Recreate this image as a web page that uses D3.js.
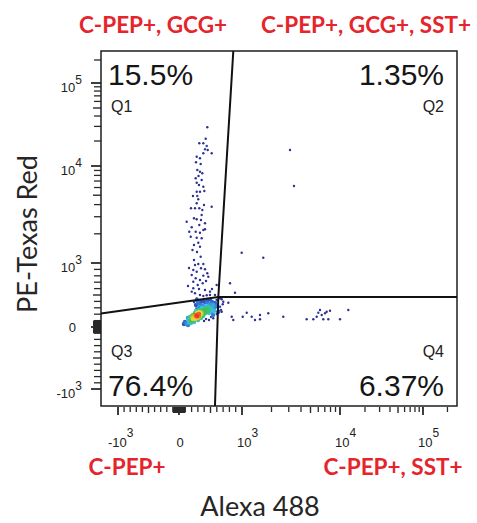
<!DOCTYPE html>
<html>
<head>
<meta charset="utf-8">
<script src="https://cdn.jsdelivr.net/npm/d3@7"></script>
<style>
  body { margin: 0; background: #fff; }
  text { font-family: "Liberation Sans", Arial, sans-serif; }
  .cap { font-family: Lato, "Open Sans", sans-serif; }
</style>
</head>
<body>
<script>
// events in the C-PEP+ GCG+ stream (Alexa 488, PE-Texas Red)
var upperX = [449,424,322,386,440,413,456,281,386,519,333,270,344,290,333,370,265,360,281,317,386,333,402,281,290,306,281,254,190,322,519,370,360,238,281,349,122,413,322,202,386,163,265,333,413,186,281,360,238,333,306,344,238,306,254,386,349,413,227,281,449,202,386,265,333,465,227,376,297,202,254,333,386,440,492,571,227,413,492,281,598,310,222,397,214,286,159,429,143,317,524];
var upperY = [29250,21330,18770,18770,17420,15890,15590,12940,14230,14230,12380,11080,10570,9094,8735,8408,7465,7173,6728,6368,6117,5433,5522,5433,4906,4536,4126,3664,3664,3664,3805,3519,3126,2889,2822,2775,2665,2566,2465,2334,2188,2102,2102,2053,2225,1867,1823,1797,1533,1472,1619,1161,1074,984,969,984,917,902,891,864,839,813,802,761,734,786,708,683,656,552,527,500,484,495,500,500,605,578,552,448,656,7889,4906,3963,1361,1298,922,719,641,594,594];

// triple positive events
var q2X = [810,889,995,1649,3090,3393];
var q2Y = [683,536,1277,1134,15590,6220];

// C-PEP+ SST+ stream and events near the gate corner
var lowerX = [783,678,694,667,678,837,862,1017,1117,1256,1357,1526,1526,1854,2639,4571,5341,5784,6004,6250,6507,6753,7030,7311,7597,7907,10000,12589,598,651,703,651,624,571,519,465,544,598];
var lowerY = [380,433,355,266,239,161,109,161,223,161,109,188,120,214,161,120,120,161,223,266,188,120,214,239,120,255,120,266,422,448,395,317,239,317,266,250,136,203];

// dense C-PEP+ population
var coreX = [270,286,254,302,270,238,317,286,254,302,222,333,270,286,
  190,206,222,175,349,365,381,317,333,238,254,302,365,397,206,159,333,413,222,286,317,349,
  111,127,95,143,79,159,175,429,444,460,397,381,190,238,349,476,492,413,302,206,254,317,365,429,508,524,444,381,333,286,270,476,524,143,
  270,302,333,381,413,444,492,524,540,460,349,556,508,286,238,571,587,556,540,508,476,429,397];
var coreY = [172,188,156,203,141,141,203,156,172,172,125,219,188,172,
  109,141,156,94,234,250,250,172,188,109,125,141,219,266,94,78,156,266,188,219,234,203,
  63,47,78,31,47,125,156,297,281,266,203,172,63,78,141,313,250,219,109,172,219,266,297,234,281,313,328,328,313,281,250,219,234,141,
  344,375,391,406,391,375,359,391,344,422,344,297,422,422,391,375,328,250,188,156,109,125,94];

// axis ticks and labels
var tickVals = [-1000, 0, 1000, 10000, 100000];
var tickBase = ['-10', '0', '10', '10', '10'];
var tickExp = ['3', '', '3', '4', '5'];
var mediumTicks = [-500, 500, 5000, 50000];
var minorTicks = [-900, -800, -700, -600, -400, -300, -200, -100, 100, 200, 300, 400, 600, 700, 800, 900,
  2000, 3000, 4000, 6000, 7000, 8000, 9000, 20000, 30000, 40000, 60000, 70000, 80000, 90000, 200000];
var zeroTicks = [-90, -80, -70, -60, -50, -40, -30, -20, -10, 0, 10, 20, 30, 40, 50, 60, 70, 80, 90];

var quadPct = ['15.5%', '1.35%', '76.4%', '6.37%'];
var quadName = ['Q1', 'Q2', 'Q3', 'Q4'];
var popNames = ['C-PEP+, GCG+', 'C-PEP+, GCG+, SST+', 'C-PEP+', 'C-PEP+, SST+'];

// gate lines, in data units
var vMin = -1900, vMax = 262144;
var gateV = [[862, vMax], [624, 469], [571, vMin]];
var gateH = [[vMin, 211], [624, 469], [vMax, 469]];

const w = 477, h = 523;
const red = '#e5242b';

// biexponential-like display transform
function biex(v) {
  var a = Math.abs(v);
  return a <= 1000 ? v / 1000 : Math.sign(v) * (1 + Math.log10(a / 1000));
}
var stops = [biex(vMin), -1, 0, 1, 2, 3, biex(vMax)];
var xs = d3.scaleLinear().domain(stops).range([101, 118, 179, 242, 340, 423, 457]);
var ys = d3.scaleLinear().domain(stops).range([406, 389, 327, 263, 166, 83, 51]);
var x = function(v) { return xs(biex(v)); };
var y = function(v) { return ys(biex(v)); };

var svg = d3.select('body').append('svg')
  .attr('width', w).attr('height', h);

// ticks: [values, length, width]
var tickKinds = [[tickVals, 8, 1.8], [mediumTicks, 6, 1.4], [minorTicks, 5, 1.3], [zeroTicks, 6, 1.5]];
var allTicks = [];
tickKinds.forEach(function(t) {
  t[0].forEach(function(v) { allTicks.push({ v: v, len: t[1], sw: t[2] }); });
});
var axisY0 = 407, axisX0 = 101;

svg.append('g').selectAll('line')
  .data(allTicks)
  .enter()
  .append('line')
  .attr('x1', function(d) { return x(d.v); })
  .attr('x2', function(d) { return x(d.v); })
  .attr('y1', axisY0)
  .attr('y2', function(d) { return axisY0 + d.len; })
  .attr('stroke', '#2a2a2a')
  .attr('stroke-width', function(d) { return d.sw; });

svg.append('g').selectAll('line')
  .data(allTicks)
  .enter()
  .append('line')
  .attr('y1', function(d) { return y(d.v); })
  .attr('y2', function(d) { return y(d.v); })
  .attr('x1', axisX0)
  .attr('x2', function(d) { return axisX0 - d.len - 2; })
  .attr('stroke', '#2a2a2a')
  .attr('stroke-width', function(d) { return d.sw; });

// tick labels with superscripts
tickVals.forEach(function(v, i) {
  var tx = svg.append('text')
    .attr('font-size', 13).attr('fill', '#222')
    .attr('y', 447);
  if (tickExp[i]) {
    tx.attr('x', x(v) - (tickBase[i][0] == '-' ? 10 : 5));
  } else {
    tx.attr('x', x(v) + 1).attr('text-anchor', 'middle');
  }
  tx.append('tspan').text(tickBase[i]);
  if (tickExp[i]) tx.append('tspan').attr('dy', -10).attr('font-size', 12).text(tickExp[i]);

  var ty = svg.append('text')
    .attr('font-size', 13).attr('fill', '#222')
    .attr('text-anchor', 'end')
    .attr('x', tickExp[i] ? 82 : 76)
    .attr('y', y(v) + (tickExp[i] ? 8.5 : 4.5));
  ty.append('tspan').text(tickBase[i]);
  if (tickExp[i]) ty.append('tspan').attr('dy', -8).attr('font-size', 12).text(tickExp[i]);
});

// events, coloured by local density
var pts = [];
function addPts(xa, ya) {
  xa.forEach(function(v, i) { pts.push({ px: x(v), py: y(ya[i]) }); });
}
addPts(upperX, upperY); addPts(q2X, q2Y); addPts(lowerX, lowerY); addPts(coreX, coreY);
pts.forEach(function(p) {
  p.n = pts.filter(function(q) { return Math.hypot(q.px - p.px, q.py - p.py) < 4.5; }).length - 1;
});
var maxN = d3.max(pts, function(p) { return p.n; });
var dens = d3.scaleLinear()
  .domain([0, 0.15, 0.32, 0.55, 0.8, 1].map(function(t) { return 2 + t * (maxN - 2); }))
  .range(['#2e3192', '#2f6fd3', '#3cc3ec', '#3fbf48', '#f1e53a', '#ec3a24'])
  .clamp(true);
pts.sort(function(a, b) { return a.n - b.n; });

svg.append('g').selectAll('circle')
  .data(pts)
  .enter()
  .append('circle')
  .attr('cx', function(d) { return d.px; })
  .attr('cy', function(d) { return d.py; })
  .attr('r', function(d) { return d.n > 3 ? 2.2 : 1.2; })
  .attr('fill', function(d) { return dens(d.n); });

// frame
svg.append('rect')
  .attr('x', x(vMin)).attr('y', y(vMax))
  .attr('width', x(vMax) - x(vMin))
  .attr('height', y(vMin) - y(vMax))
  .attr('fill', 'none').attr('stroke', '#1e1e1e').attr('stroke-width', 1.5);

// quadrant gates
var line = d3.line().x(function(d) { return x(d[0]); }).y(function(d) { return y(d[1]); });
[gateV, gateH].forEach(function(g) {
  svg.append('path').attr('d', line(g))
    .attr('fill', 'none').attr('stroke', '#111').attr('stroke-width', 2);
});

// quadrant stats
var left = x(vMin) + 7, right = x(vMax) - 13;
var quadPos = [[left, 85, 112, 'start'], [right, 85, 112, 'end'], [left, 396, 357, 'start'], [right, 396, 357, 'end']];
quadPos.forEach(function(p, i) {
  svg.append('text')
    .attr('x', p[0]).attr('y', p[1]).attr('text-anchor', p[3])
    .attr('font-size', 30).attr('fill', '#151515')
    .text(quadPct[i]);
  svg.append('text')
    .attr('x', p[0] + (p[3] == 'start' ? 3 : 0)).attr('y', p[2]).attr('text-anchor', p[3])
    .attr('font-size', 16).attr('fill', '#222')
    .text(quadName[i]);
});

// population names
var popPos = [[153, 33], [366, 33], [127, 475], [393, 475]];
popPos.forEach(function(p, i) {
  svg.append('text').attr('class', 'cap')
    .attr('x', p[0]).attr('y', p[1])
    .attr('text-anchor', 'middle')
    .attr('font-size', 22.5).attr('font-weight', 'bold')
    .attr('fill', red)
    .text(popNames[i]);
});

// axis titles
svg.append('text').attr('class', 'cap')
  .attr('text-anchor', 'middle')
  .attr('transform', 'translate(260,516)')
  .attr('font-size', 27).attr('fill', '#262626')
  .text('Alexa 488');

svg.append('text').attr('class', 'cap')
  .attr('text-anchor', 'middle')
  .attr('transform', 'translate(37,234)rotate(-90)')
  .attr('font-size', 27).attr('fill', '#262626')
  .text('PE-Texas Red');
</script>
</body>
</html>
